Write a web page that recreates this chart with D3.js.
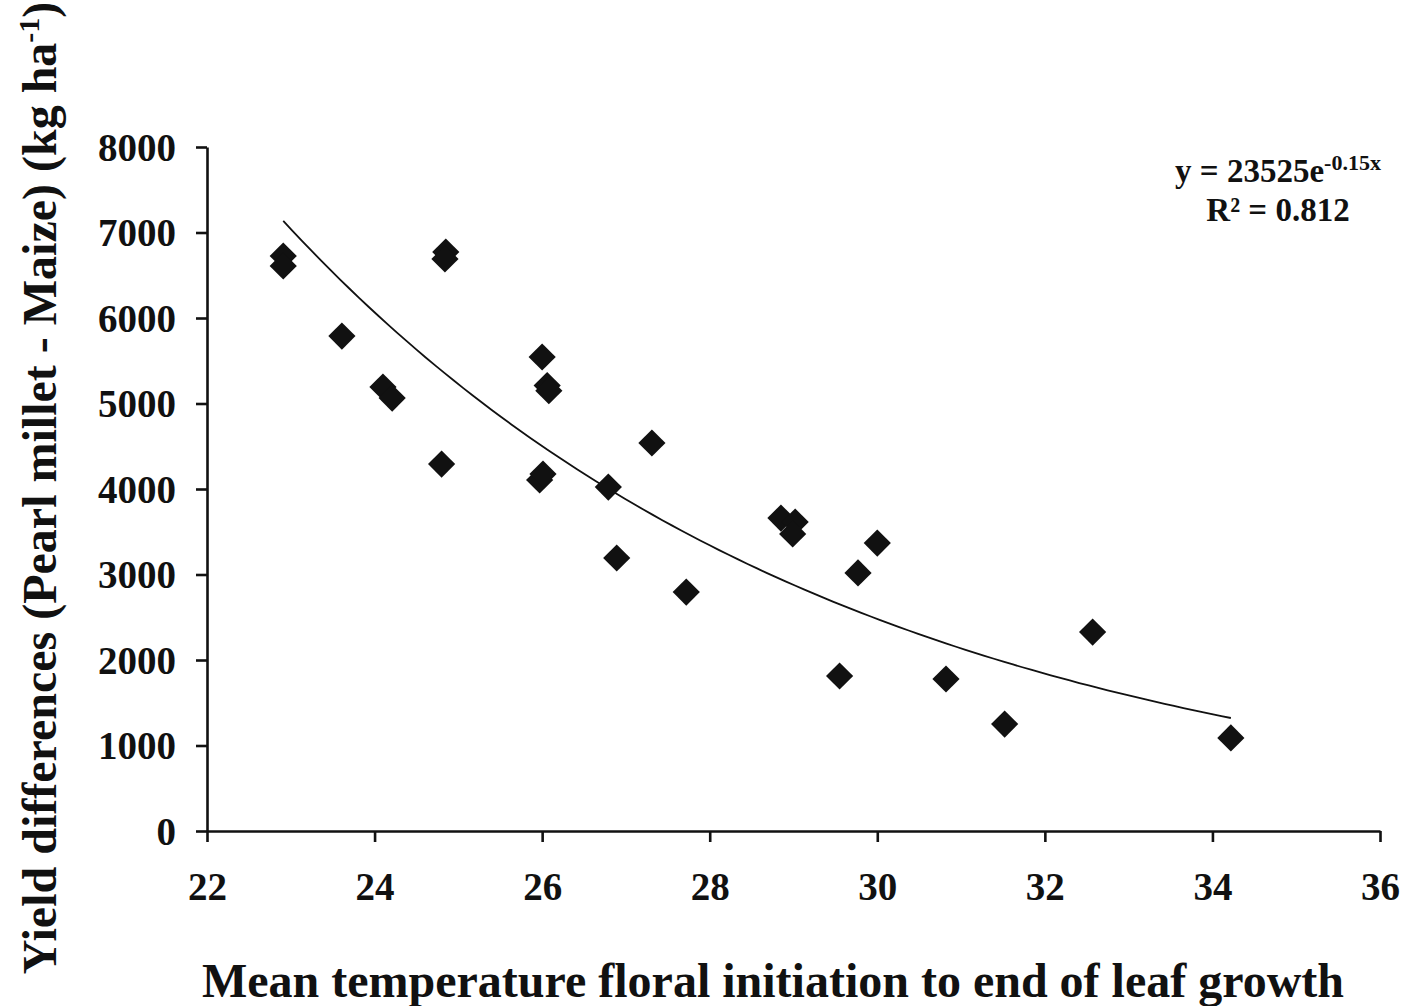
<!DOCTYPE html>
<html><head><meta charset="utf-8">
<script src="https://cdn.jsdelivr.net/npm/d3@7"></script>
<style>body{margin:0;background:#fff}svg{display:block}</style>
</head><body>
<script>
// Data
const temperature = [22.91,22.91,23.61,24.10,24.21,24.80,24.85,24.84,26.00,26.06,26.08,25.97,26.01,26.79,26.89,27.31,27.72,28.85,29.02,28.99,30.00,29.77,29.55,30.82,31.52,32.57,34.22];
const yieldDiff   = [6725,6608,5789,5193,5064,4292,6772,6690,5544,5210,5150,4105,4175,4023,3193,4538,2795,3660,3614,3474,3368,3018,1813,1778,1251,2327,1088];
const xTicks = [22,24,26,28,30,32,34,36];
const yTicks = [0,1000,2000,3000,4000,5000,6000,7000,8000];

const W=1406,H=1006;
const m={left:207,right:26,top:147,bottom:175};
const svg=d3.select("body").append("svg").attr("width",W).attr("height",H);
const x=d3.scaleLinear().domain([22,36]).range([m.left,W-m.right]);
const y=d3.scaleLinear().domain([0,8000]).range([H-m.bottom,m.top]);
const font="'Liberation Serif','Times New Roman',serif";

const xa=svg.append("g").attr("transform",`translate(0,${y(0)})`)
  .call(d3.axisBottom(x).tickValues(xTicks).tickFormat(d3.format("d")).tickSize(11).tickPadding(30).tickSizeOuter(0));
const ya=svg.append("g").attr("transform",`translate(${x(22)},0)`)
  .call(d3.axisLeft(y).tickValues(yTicks).tickFormat(d3.format("d")).tickSize(11).tickPadding(20).tickSizeOuter(0));
[xa,ya].forEach(a=>{
  a.selectAll("path,line").attr("stroke","#111").attr("stroke-width",2.6);
  a.selectAll("text").attr("font-family",font).attr("font-weight","bold").attr("font-size",39).attr("fill","#111");
});
ya.selectAll("text").attr("dy","0.34em");

// Exponential trendline fitted from the data (least squares on ln y)
const lx=temperature, ly=yieldDiff.map(v=>Math.log(v));
const mx=d3.mean(lx), my=d3.mean(ly);
const k=d3.sum(lx.map((v,i)=>(v-mx)*(ly[i]-my)))/d3.sum(lx.map(v=>(v-mx)*(v-mx)));
const b=my-k*mx;
const xs=d3.range(0,101).map(i=>d3.min(lx)+(d3.max(lx)-d3.min(lx))*i/100);
svg.append("path").datum(xs)
  .attr("d",d3.line().x(d=>x(d)).y(d=>y(Math.exp(b+k*d))))
  .attr("fill","none").attr("stroke","#111").attr("stroke-width",1.8);

svg.append("g").selectAll("path").data(temperature).join("path")
  .attr("d",d3.symbol().type(d3.symbolSquare).size(370))
  .attr("transform",(d,i)=>`translate(${x(d)},${y(yieldDiff[i])}) rotate(45)`)
  .attr("fill","#111");

// Equation text
const eq=svg.append("text").attr("x",1278).attr("y",182).attr("text-anchor","middle")
  .attr("font-family",font).attr("font-weight","bold").attr("font-size",33).attr("fill","#111");
eq.append("tspan").text("y = 23525e");
eq.append("tspan").attr("dy",-12).attr("font-size",22).text("-0.15x");
svg.append("text").attr("x",1278).attr("y",221).attr("text-anchor","middle")
  .attr("font-family",font).attr("font-weight","bold").attr("font-size",33).attr("fill","#111")
  .text("R² = 0.812");

// Axis titles
svg.append("text").attr("x",773).attr("y",997).attr("text-anchor","middle")
  .attr("font-family",font).attr("font-weight","bold").attr("font-size",48).attr("fill","#111")
  .text("Mean temperature floral initiation to end of leaf growth");
const yl=svg.append("text").attr("transform","translate(56,488) rotate(-90)").attr("text-anchor","middle")
  .attr("font-family",font).attr("font-weight","bold").attr("font-size",48).attr("fill","#111");
yl.append("tspan").text("Yield differences (Pearl millet - Maize) (kg ha");
yl.append("tspan").attr("dy",-17).attr("font-size",30).text("-1");
yl.append("tspan").attr("dy",17).text(")");
</script>
</body></html>
